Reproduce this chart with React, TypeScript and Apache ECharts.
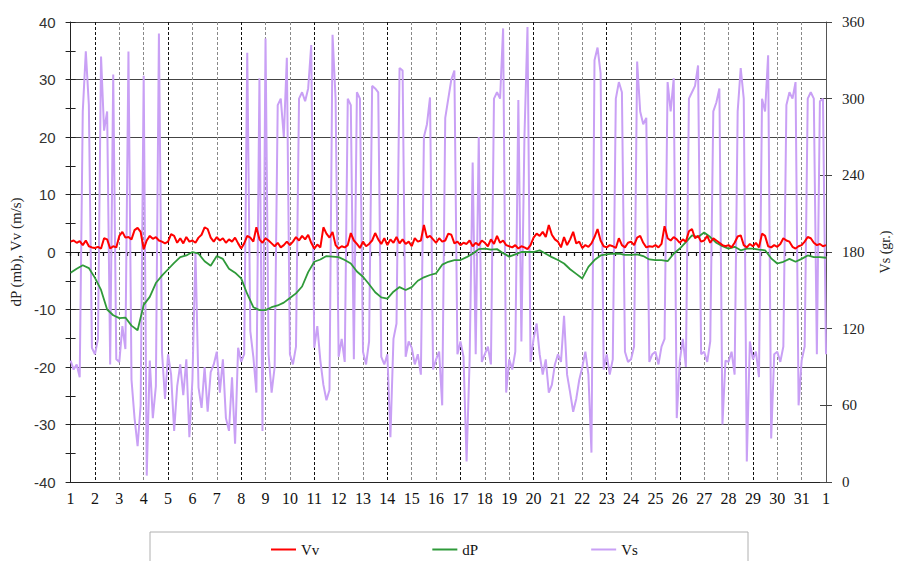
import React, { useEffect, useRef } from "react";
import * as echarts from "echarts";

// Tick labels for the day-of-month axis (day 1 .. 31, then 1 of next month)
const dayTickLabels = [
  "1", "2", "3", "4", "5", "6", "7", "8", "9", "10", "11", "12", "13", "14", "15", "16",
  "17", "18", "19", "20", "21", "22", "23", "24", "25", "26", "27", "28", "29", "30", "31", "1",
];

// Samples per day for each series
const VS_PER_DAY = 8;
const VV_PER_DAY = 8;
const DP_PER_DAY = 4;

// Vs – wind direction (degrees), 3-hourly
const vsValues = [
  95, 88, 92, 82, 290, 337, 295, 105,
  100, 112, 333, 275, 290, 92, 319, 96,
  94, 122, 104, 337, 80, 50, 28, 60,
  318, 5, 95, 50, 75, 351, 102, 65,
  100, 84, 40, 75, 92, 68, 96, 35,
  80, 180, 74, 58, 90, 55, 86, 92,
  102, 70, 96, 50, 40, 82, 30, 105,
  94, 100, 336, 118, 98, 70, 316, 40,
  347, 100, 70, 90, 295, 300, 270, 332,
  100, 92, 106, 300, 305, 298, 308, 342,
  105, 122, 95, 76, 64, 72, 350, 300,
  98, 112, 94, 300, 295, 96, 305, 300,
  102, 92, 110, 310, 308, 305, 98, 92,
  100, 35, 112, 124, 324, 322, 98, 110,
  105, 92, 100, 84, 270, 280, 301, 88,
  96, 102, 60, 285, 300, 315, 322, 100,
  110, 98, 16, 95, 250, 100, 270, 94,
  100, 106, 92, 300, 305, 300, 355, 70,
  96, 88, 102, 299, 110, 270, 356, 94,
  112, 124, 100, 84, 96, 70, 76, 92,
  100, 94, 130, 84, 70, 55, 65, 80,
  90, 102, 84, 23, 330, 340, 320, 88,
  100, 84, 96, 300, 313, 305, 102, 94,
  96, 106, 329, 290, 280, 285, 94, 100,
  102, 92, 106, 112, 313, 290, 316, 50,
  95, 112, 90, 300, 305, 310, 326, 100,
  102, 94, 110, 290, 297, 308, 45, 95,
  94, 102, 84, 290, 324, 300, 16, 110,
  96, 102, 82, 300, 290, 334, 34, 100,
  102, 94, 106, 295, 305, 300, 313, 60,
  95, 106, 300, 305, 300, 100, 298, 300,
  100,
];

// Vv – wind speed (m/s), 3-hourly
const vvValues = [
  1.8, 2.0, 1.6, 1.9, 1.2, 2.0, 1.0, 0.8,
  0.7, 0.9, 0.6, 2.4, 2.2, 0.6, 1.0, 0.8,
  2.8, 3.5, 2.5, 2.6, 2.2, 3.8, 4.2, 3.5,
  0.5, 2.0, 2.8, 2.3, 2.6, 2.0, 1.8, 1.5,
  1.8, 3.1, 2.8, 1.6, 2.4, 1.5, 2.6, 1.8,
  2.0, 1.6, 2.5, 3.0, 4.3, 4.0, 2.5, 1.8,
  2.6, 2.0, 2.4, 1.6, 2.2, 1.8, 2.5, 1.5,
  0.6, 1.5, 2.8, 2.5, 1.8, 4.3, 2.2, 1.6,
  2.4, 2.0, 1.5, 1.0, 1.6, 0.8, 1.2, 1.8,
  1.2, 1.8, 2.6, 2.0, 2.8, 2.2, 3.0, 1.6,
  0.6, 1.3, 0.8, 4.3, 3.2, 2.5, 3.5, 1.2,
  0.6, 1.0, 0.8, 1.2, 3.3, 2.0, 1.4, 0.7,
  1.8, 1.0, 1.4, 2.0, 3.3, 2.2, 1.4, 2.4,
  1.2, 2.2, 1.6, 2.6, 1.5, 2.2, 1.4, 1.8,
  1.0, 2.4, 1.8, 2.0, 4.7, 2.5, 2.8, 2.2,
  1.6, 2.4, 1.8, 2.0, 3.2, 3.0, 1.5, 1.8,
  1.2, 1.6, 1.4, 2.0, 1.0, 1.6, 1.2, 2.0,
  1.6, 1.0, 2.2, 1.4, 2.8, 1.6, 2.0, 1.2,
  1.0, 0.8, 1.2, 0.6, 1.0, 0.8, 0.5, 1.2,
  2.5, 3.2, 2.8, 3.5, 2.6, 4.7, 3.0, 2.2,
  1.8, 0.8, 2.6, 1.2, 2.2, 3.5, 1.5, 1.8,
  0.7, 1.2, 0.9, 1.5, 2.6, 4.0, 2.0, 1.0,
  0.8, 1.2, 1.0, 0.7, 2.4, 1.2, 0.8, 1.6,
  1.8, 1.2, 2.5, 2.8, 1.6, 0.8, 1.0, 0.9,
  1.2, 0.8, 1.4, 4.5, 2.4, 2.0, 2.6, 2.2,
  1.6, 2.2, 1.8, 3.6, 4.0, 2.4, 2.8, 1.8,
  2.0, 2.8, 1.6, 2.4, 2.0, 1.6, 1.2, 1.0,
  1.2, 0.8, 1.6, 2.7, 2.9, 1.2, 0.8, 1.4,
  1.0, 1.6, 0.8, 3.2, 2.8, 1.0, 0.8, 1.2,
  0.9, 1.4, 2.4, 2.0, 1.8, 0.9, 0.6, 1.0,
  1.2, 1.8, 2.6, 2.4, 1.6, 1.2, 1.4, 1.0,
  1.2,
];

// dP – pressure change (mb), 6-hourly
const dpValues = [
  -3.6, -2.9, -2.3, -2.8,
  -4.5, -6.6, -10.0, -11.0,
  -11.5, -11.4, -12.8, -13.6,
  -9.2, -7.8, -5.4, -4.1,
  -3.0, -1.9, -0.9, -0.6,
  0.0, -0.3, -1.6, -2.4,
  -0.7, -1.2, -2.9, -3.6,
  -4.6, -7.3, -9.6, -10.1,
  -10.1, -9.6, -9.3, -8.8,
  -8.0, -7.2, -6.0, -3.5,
  -1.7, -1.3, -0.7, -0.8,
  -0.9, -1.4, -2.0, -3.4,
  -4.3, -5.6, -7.0, -7.9,
  -8.1, -6.9, -6.1, -6.6,
  -6.1, -5.0, -4.4, -4.0,
  -3.7, -2.2, -1.7, -1.4,
  -1.4, -0.9, -0.3, 0.5,
  0.6, 0.4, 0.5, -0.2,
  -0.8, -0.4, 0.0, 0.0,
  0.0, 0.3, -0.3, -0.9,
  -1.4, -2.0, -3.0, -3.8,
  -4.6, -2.6, -1.4, -0.6,
  -0.4, -0.3, -0.3, -0.5,
  -0.5, -0.4, -0.7, -1.3,
  -1.4, -1.4, -1.6, -0.3,
  0.6, 1.7, 2.9, 2.6,
  3.4, 2.6, 1.6, 1.0,
  0.6, 0.9, 0.3, 0.6,
  0.6, 0.4, 0.3, -1.1,
  -2.0, -1.7, -1.2, -1.7,
  -1.2, -0.6, -0.9, -0.9,
  -1.0,
];

const toSeries = (vals: number[], perDay: number) => vals.map((v, i) => [1 + i / perDay, v]);

const SERIF = "Liberation Serif";
const SANS = "Liberation Sans";

export default function App() {
  const ref = useRef<HTMLDivElement>(null);

  useEffect(() => {
    document.body.style.margin = "0";
    if (!ref.current) return;
    const chart = echarts.init(ref.current, undefined, { renderer: "svg" });

    const option: any = {
      animation: false,
      backgroundColor: "#ffffff",
      grid: { left: 68, right: 64, top: 22, bottom: 79, containLabel: false },
      legend: {
        data: [
          { name: "Vv", icon: "rect" },
          { name: "dP", icon: "rect" },
          { name: "Vs", icon: "rect" },
        ],
        left: 266,
        top: 537,
        itemGap: 113,
        itemWidth: 25,
        itemHeight: 2,
        textStyle: { fontFamily: SERIF, fontSize: 15, color: "#111" },
      },
      graphic: [
        {
          type: "rect",
          shape: { x: 150, y: 532, width: 598, height: 40 },
          style: { fill: "none", stroke: "#b0b0b0", lineWidth: 1 },
          silent: true,
        },
      ],
      xAxis: [
        {
          type: "value",
          min: 1,
          max: 32,
          interval: 1,
          position: "bottom",
          axisLine: { show: true, onZero: false, lineStyle: { color: "#222", width: 1 } },
          axisTick: { show: false },
          axisLabel: {
            fontFamily: SERIF,
            fontSize: 16,
            color: "#111",
            margin: 8,
            formatter: (v: number) => dayTickLabels[Math.round(v) - 1] ?? "",
          },
          splitLine: {
            show: true,
            lineStyle: { type: [3, 2], color: ["#888", "#111", "#888"], width: 1 },
          },
        },
        {
          type: "value",
          min: 1,
          max: 32,
          interval: 1,
          position: "bottom",
          axisLine: { show: true, onZero: true, onZeroAxisIndex: 0, lineStyle: { color: "#111", width: 1 } },
          axisTick: { show: true, length: 4, lineStyle: { color: "#111", width: 1.2 } },
          minorTick: { show: true, splitNumber: 3, length: 4, lineStyle: { color: "#111", width: 1.2 } },
          axisLabel: { show: false },
          splitLine: { show: false },
        },
      ],
      yAxis: [
        {
          type: "value",
          min: -40,
          max: 40,
          interval: 10,
          position: "left",
          name: "dP (mb), Vv (m/s)",
          nameLocation: "middle",
          nameGap: 44,
          nameRotate: 90,
          nameTextStyle: { fontFamily: SERIF, fontSize: 15, color: "#222" },
          axisLine: { show: true, onZero: false, lineStyle: { color: "#222", width: 1 } },
          axisTick: { show: true, length: 5, lineStyle: { color: "#222" } },
          minorTick: { show: true, splitNumber: 2, length: 5, lineStyle: { color: "#222" } },
          axisLabel: { fontFamily: SANS, fontSize: 15, color: "#333", margin: 15 },
          splitLine: { show: true, lineStyle: { color: "#444", width: 1 } },
        },
        {
          type: "value",
          min: 0,
          max: 360,
          interval: 60,
          position: "right",
          name: "Vs (gr.)",
          nameLocation: "middle",
          nameGap: 52,
          nameRotate: 90,
          nameTextStyle: { fontFamily: SERIF, fontSize: 14, color: "#222" },
          axisLine: { show: true, onZero: false, lineStyle: { color: "#555", width: 1 } },
          axisTick: { show: true, length: 6, lineStyle: { color: "#444" } },
          axisLabel: { fontFamily: SERIF, fontSize: 15, color: "#222", margin: 16 },
          splitLine: { show: false },
        },
        {
          type: "value",
          min: -40,
          max: 40,
          interval: 10,
          position: "left",
          axisLine: { show: false, onZero: false },
          axisTick: { show: true, inside: true, length: 5, lineStyle: { color: "#222" } },
          minorTick: { show: true, splitNumber: 2, length: 5, lineStyle: { color: "#222" } },
          axisLabel: { show: false },
          splitLine: { show: false },
        },
        {
          type: "value",
          min: 0,
          max: 360,
          interval: 60,
          position: "right",
          axisLine: { show: false, onZero: false },
          axisTick: { show: true, inside: true, length: 6, lineStyle: { color: "#444" } },
          axisLabel: { show: false },
          splitLine: { show: false },
        },
      ],
      series: [
        {
          name: "Vs",
          type: "line",
          xAxisIndex: 0,
          yAxisIndex: 1,
          data: toSeries(vsValues, VS_PER_DAY),
          symbol: "none",
          z: 1,
          lineStyle: { color: "#C9A0F5", width: 2 },
          itemStyle: { color: "#C9A0F5" },
        },
        {
          name: "dP",
          type: "line",
          xAxisIndex: 0,
          yAxisIndex: 0,
          data: toSeries(dpValues, DP_PER_DAY),
          symbol: "none",
          z: 3,
          lineStyle: { color: "#2F9A3A", width: 1.8 },
          itemStyle: { color: "#2F9A3A" },
        },
        {
          name: "Vv",
          type: "line",
          xAxisIndex: 0,
          yAxisIndex: 0,
          data: toSeries(vvValues, VV_PER_DAY),
          symbol: "none",
          z: 4,
          lineStyle: { color: "#FF0000", width: 2 },
          itemStyle: { color: "#FF0000" },
        },
      ],
    };

    chart.setOption(option);
    return () => chart.dispose();
  }, []);

  return (
    <div
      ref={ref}
      style={{ position: "fixed", left: 0, top: 0, width: 900, height: 561, background: "#fff" }}
    />
  );
}
